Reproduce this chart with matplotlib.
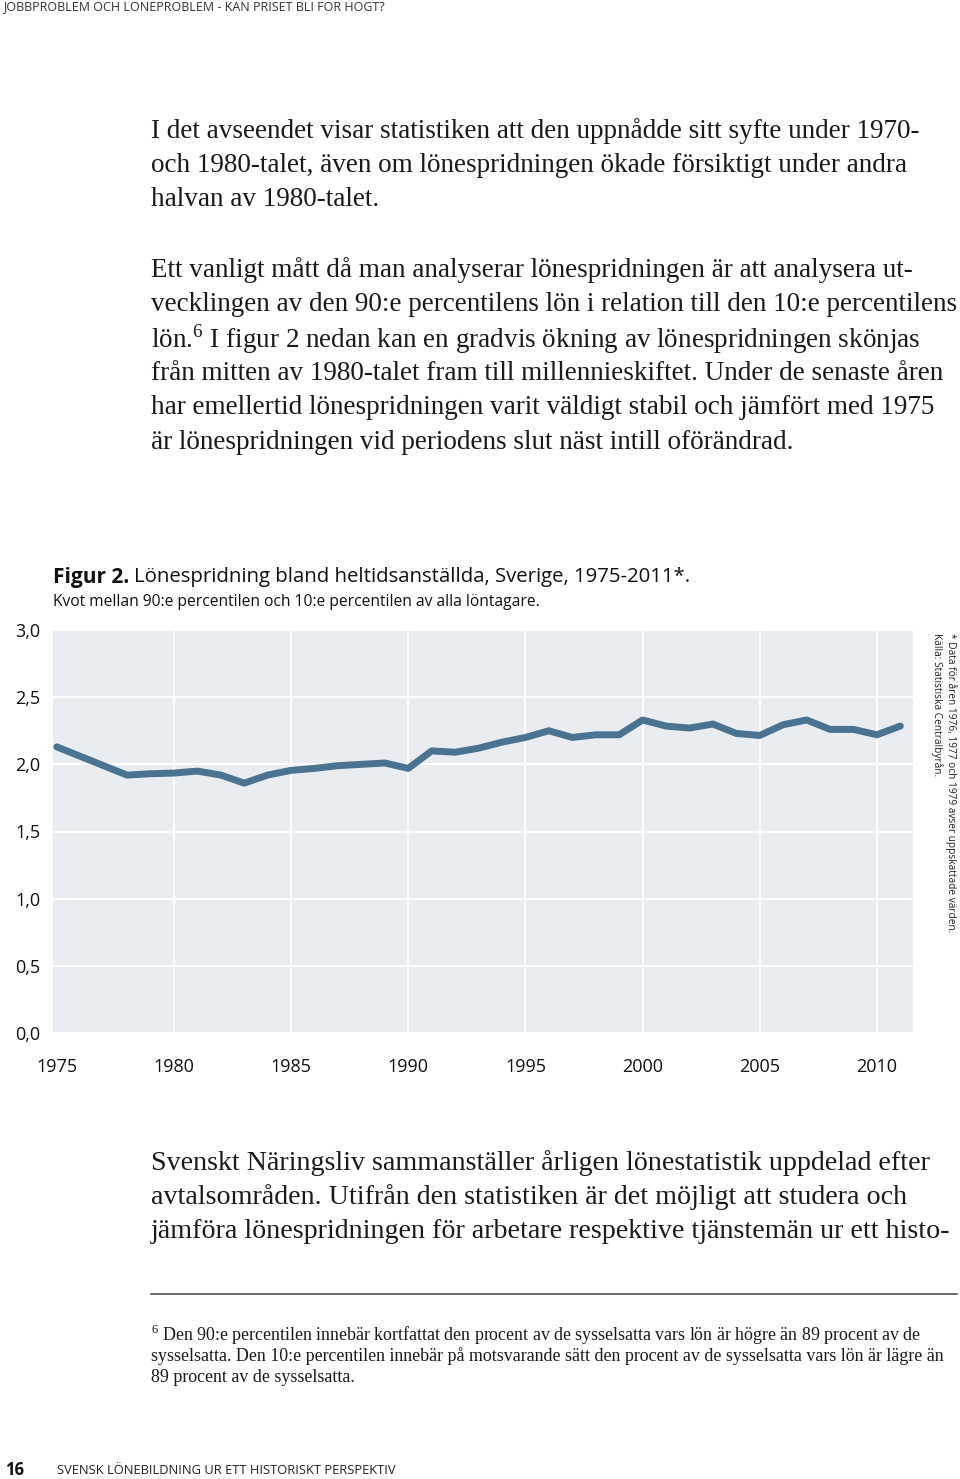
import matplotlib
matplotlib.use("Agg")
import matplotlib.pyplot as plt

# data
years = list(range(1975, 2012))
ratio = [2.13, 2.06, 1.99, 1.92, 1.93, 1.935, 1.95, 1.92, 1.86, 1.92,
         1.955, 1.97, 1.99, 2.00, 2.01, 1.97, 2.10, 2.09, 2.12, 2.165,
         2.20, 2.25, 2.20, 2.22, 2.22, 2.33, 2.285, 2.27, 2.30, 2.23,
         2.215, 2.295, 2.33, 2.26, 2.26, 2.22, 2.285]
xticks = [1975, 1980, 1985, 1990, 1995, 2000, 2005, 2010]
yticks = [0.0, 0.5, 1.0, 1.5, 2.0, 2.5, 3.0]
ylabels = ["0,0", "0,5", "1,0", "1,5", "2,0", "2,5", "3,0"]

title = "Lönespridning bland heltidsanställda, Sverige, 1975-2011*."
subtitle = "Kvot mellan 90:e percentilen och 10:e percentilen av alla löntagare."
note1 = "* Data för åren 1976, 1977 och 1979 avser uppskattade värden."
note2 = "Källa: Statistiska Centralbyrån."

header = "JOBBPROBLEM OCH LÖNEPROBLEM - KAN PRISET BLI FÖR HÖGT?"
footer = "SVENSK LÖNEBILDNING UR ETT HISTORISKT PERSPEKTIV"
para1 = ["I det avseendet visar statistiken att den uppnådde sitt syfte under 1970-",
         "och 1980-talet, även om lönespridningen ökade försiktigt under andra",
         "halvan av 1980-talet."]
para2 = ["Ett vanligt mått då man analyserar lönespridningen är att analysera ut-",
         "vecklingen av den 90:e percentilens lön i relation till den 10:e percentilens",
         "lön.$^{6}$ I figur 2 nedan kan en gradvis ökning av lönespridningen skönjas",
         "från mitten av 1980-talet fram till millennieskiftet. Under de senaste åren",
         "har emellertid lönespridningen varit väldigt stabil och jämfört med 1975",
         "är lönespridningen vid periodens slut näst intill oförändrad."]
para3 = ["Svenskt Näringsliv sammanställer årligen lönestatistik uppdelad efter",
         "avtalsområden. Utifrån den statistiken är det möjligt att studera och",
         "jämföra lönespridningen för arbetare respektive tjänstemän ur ett histo-"]
fnote = ["$^{6}$ Den 90:e percentilen innebär kortfattat den procent av de sysselsatta vars lön är högre än 89 procent av de",
         "sysselsatta. Den 10:e percentilen innebär på motsvarande sätt den procent av de sysselsatta vars lön är lägre än",
         "89 procent av de sysselsatta."]

W, H = 960, 1479
fig = plt.figure(figsize=(9.6, 14.79), dpi=100)
sans = "Open Sans"
serif = "Liberation Serif"
plt.rcParams["mathtext.fontset"] = "custom"
plt.rcParams["mathtext.rm"] = serif

def px(x, y):
    return x / W, 1 - y / H

# page text
body = dict(fontsize=19.5, family=serif, color="#1a1a1a", va="center")
fig.text(*px(3, 7), header, fontsize=9, family=sans, color="#333333", va="center")
for i, s in enumerate(para1):
    fig.text(*px(151, 131 + i * 34.5), s, **body)
for i, s in enumerate(para2):
    fig.text(*px(151, 270 + i * 34.4), s, **body)
for i, s in enumerate(para3):
    fig.text(*px(151, 1163 + i * 34.3), s, fontsize=20.2, family=serif, color="#1a1a1a", va="center")
fig.add_artist(plt.Line2D([151 / W, 957 / W], [1 - 1294 / H] * 2, color="#555555", lw=1.2))
for i, s in enumerate(fnote):
    fig.text(*px(151, 1335 + i * 21.5), s, fontsize=12.9, family=serif, color="#1a1a1a", va="center")
fig.text(*px(5, 1470), "16", fontsize=12, family=sans, weight="bold", color="#111111", va="center")
fig.text(*px(57, 1470), footer, fontsize=9.3, family=sans, color="#222222", va="center")

# chart titles
fig.text(*px(53, 577), "Figur 2.", fontsize=15, family=sans, weight="bold", color="#111111", va="center")
fig.text(*px(134, 577), title, fontsize=14.7, family=sans, color="#111111", va="center")
fig.text(*px(53, 602), subtitle, fontsize=11.25, family=sans, color="#111111", va="center")
fig.text(*px(957, 633), note1, fontsize=7.3, family=sans, rotation=270, color="#222222", ha="right", va="top")
fig.text(*px(943, 633), note2, fontsize=7.3, family=sans, rotation=270, color="#222222", ha="right", va="top")

ax = fig.add_axes([53 / W, 1 - 1033 / H, 860 / W, 403 / H])
ax.set_facecolor("#e9ecf1")
ax.plot(years, ratio, color="#4a7391", lw=5, solid_joinstyle="round", solid_capstyle="round", zorder=3)
ax.set_xlim(1974.84, 2011.54)
ax.set_ylim(0, 3.0)
ax.set_xticks(xticks)
ax.set_yticks(yticks)
ax.set_yticklabels(ylabels)
for sp in ax.spines.values():
    sp.set_visible(False)
ax.grid(True, color="white", lw=1.5)
ax.xaxis.get_gridlines()[0].set_visible(False)
ax.tick_params(length=0, labelsize=13)
ax.tick_params(axis="x", pad=18)
ax.tick_params(axis="y", pad=9)
for lab in ax.get_xticklabels() + ax.get_yticklabels():
    lab.set_family(sans)
    lab.set_color("#111111")

fig.savefig("out.png", dpi=100)
